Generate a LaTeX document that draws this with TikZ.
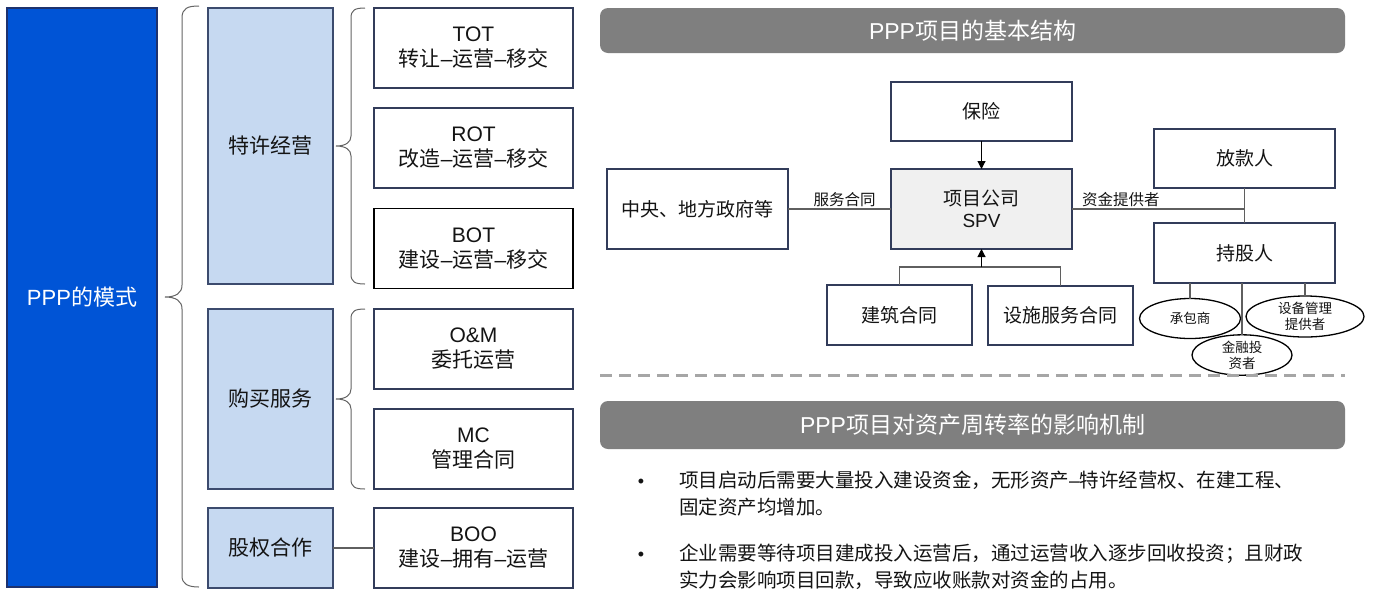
\documentclass[tikz,border=0pt]{standalone}
\usepackage{fontspec}
\setmainfont{Noto Sans CJK SC}
\newfontfamily\lat{Liberation Sans}
\usetikzlibrary{shapes.geometric,arrows.meta}
\definecolor{pppblue}{RGB}{0,84,214}
\definecolor{pppedge}{RGB}{30,50,110}
\definecolor{catfill}{RGB}{198,217,241}
\definecolor{catedge}{RGB}{60,75,110}
\definecolor{boxedge}{RGB}{50,60,90}
\definecolor{hdr}{RGB}{127,127,127}
\definecolor{spvfill}{RGB}{240,240,240}
\definecolor{conn}{RGB}{95,95,95}
\definecolor{bracec}{RGB}{100,100,100}
\definecolor{dashc}{RGB}{166,166,166}
\definecolor{txt}{RGB}{20,20,20}
\begin{document}
\begin{tikzpicture}[x=1pt,y=-1pt,
  every node/.style={inner sep=0pt, outer sep=0pt, text=txt},
  pppbox/.style={draw=pppedge, fill=pppblue, line width=1.5pt, minimum width=150pt, minimum height=579pt, text=white, font=\fontsize{22}{26}\selectfont},
  catbox/.style={draw=catedge, fill=catfill, line width=1.5pt, minimum width=125pt, font=\fontsize{21}{25}\selectfont},
  modebox/.style={draw=boxedge, fill=white, line width=1.5pt, minimum width=199pt, minimum height=80pt, align=center, font=\fontsize{21}{25}\selectfont},
  header/.style={fill=hdr, rounded corners=8pt, minimum width=745pt, text=white, font=\fontsize{23}{27}\selectfont},
  sbox/.style={draw=boxedge, fill=white, line width=1.5pt, minimum width=181pt, align=center, font=\fontsize{19}{22}\selectfont},
  ebox/.style={draw=black, fill=white, ellipse, line width=1.3pt, align=center, font=\fontsize{13.5}{16}\selectfont},
  conn/.style={draw=conn, line width=1.1pt},
  arr/.style={-{Triangle[length=8pt,width=8pt]}, draw=black},
  brace/.style={draw=bracec, line width=1pt},
  lbl/.style={font=\fontsize{15.5}{18}\selectfont},
  btxt/.style={anchor=base west, font=\fontsize{19.5}{23}\selectfont},
  bdot/.style={anchor=base, font=\fontsize{18}{20}\selectfont\lat}
]
\useasboundingbox (0,0) rectangle (1375,590);
\fill[white] (0,0) rectangle (1375,590);

% ---------------- left part ----------------
\node[pppbox] (ppp) at (82,297.5) {{\lat PPP}的模式};
\node[catbox, minimum height=276pt] (c1) at (270.5,146) {特许经营};
\node[catbox, minimum height=180pt] (c2) at (270.5,399) {购买服务};
\node[catbox, minimum height=80pt] (c3) at (270.5,548) {股权合作};

\node[modebox] (tot) at (473.5,48) {{\lat TOT}\\转让{\lat –}运营{\lat –}移交};
\node[modebox] (rot) at (473.5,148) {{\lat ROT}\\改造{\lat –}运营{\lat –}移交};
\node[modebox, draw=black] (bot) at (473.5,248.5) {{\lat BOT}\\建设{\lat –}运营{\lat –}移交};
\node[modebox] (om) at (473.5,349) {{\lat O\&M}\\委托运营};
\node[modebox] (mc) at (473.5,449) {{\lat MC}\\管理合同};
\node[modebox] (boo) at (473.5,548) {{\lat BOO}\\建设{\lat –}拥有{\lat –}运营};

% braces
\draw[brace] (199,6) .. controls (188,6) and (182,8) .. (182,18) -- (182,285)
  .. controls (182,293) and (176,297) .. (165,297)
  .. controls (176,297) and (182,301) .. (182,309) -- (182,576)
  .. controls (182,584) and (188,587) .. (199,587);
\draw[brace] (365,8) .. controls (355,8) and (351,10) .. (351,18) -- (351,136)
  .. controls (351,142) and (346,146) .. (336,146)
  .. controls (346,146) and (351,150) .. (351,156) -- (351,274)
  .. controls (351,282) and (355,284) .. (365,284);
\draw[brace] (365,309) .. controls (355,309) and (351,311) .. (351,319) -- (351,389)
  .. controls (351,395) and (346,399) .. (336,399)
  .. controls (346,399) and (351,403) .. (351,409) -- (351,479)
  .. controls (351,487) and (355,489) .. (365,489);
\draw[conn] (c3.east) -- (boo.west);

% ---------------- right top ----------------
\node[header, minimum height=45pt] (h1) at (972.5,30.5) {{\lat PPP}项目的基本结构};

\node[sbox, minimum height=59pt] (ins) at (981.5,111.5) {保险};
\node[sbox, minimum height=80pt, fill=spvfill] (spv) at (981.5,209) {项目公司\\{\lat SPV}};
\node[sbox, minimum height=80pt] (gov) at (697.5,209) {中央、地方政府等};
\node[sbox, minimum width=145pt, minimum height=60pt] (bld) at (899.5,315) {建筑合同};
\node[sbox, minimum width=145pt, minimum height=59pt] (fac) at (1060.5,315.5) {设施服务合同};
\node[sbox, minimum height=59pt] (lend) at (1244.5,158.5) {放款人};
\node[sbox, minimum height=60pt] (hold) at (1244.5,253) {持股人};

\node[ebox, minimum width=101pt, minimum height=40pt] (ctr) at (1190,318.5) {承包商};
\node[ebox, minimum width=100pt, minimum height=39pt] (fin) at (1242,355) {金融投\\资者};
\node[ebox, minimum width=118pt, minimum height=41pt] (eqp) at (1305,316.5) {设备管理\\提供者};

\draw[conn, arr] (ins.south) -- (spv.north);
\draw[conn] (gov.east) -- node[pos=0.55, above=2pt, lbl] {服务合同} (spv.west);
\draw[conn] (spv.east) -- node[pos=0, anchor=south west, xshift=10pt, yshift=2pt, lbl] {资金提供者} (spv.east -| lend.south);
\draw[conn] (lend.south) -- (hold.north);

\coordinate (jn) at (981.5,267);
\draw[conn] (bld.north) -- (bld.north |- jn) -- (fac.north |- jn) -- (fac.north);
\draw[conn, arr] (jn) -- (spv.south);

\draw[conn] (hold.south -| ctr.north) -- (ctr.north);
\draw[conn] (hold.south -| fin.north) -- (fin.north);
\draw[conn] (hold.south -| eqp.north) -- (eqp.north);

% dashed separator
\coordinate (dl) at (600,375);
\coordinate (dr) at (1345,375);
\draw[draw=dashc, line width=3pt, dash pattern=on 12pt off 7pt] (dl) -- (dr);

% ---------------- right bottom ----------------
\node[header, minimum height=48pt] (h2) at (972.5,425) {{\lat PPP}项目对资产周转率的影响机制};

\node[bdot] (d1) at (641,487) {•};
\node[btxt] (t1a) at (679,487) {项目启动后需要大量投入建设资金，无形资产{\lat –}特许经营权、在建工程、};
\node[btxt] (t1b) at (679,514) {固定资产均增加。};
\node[bdot] (d2) at (641,560) {•};
\node[btxt] (t2a) at (679,560) {企业需要等待项目建成投入运营后，通过运营收入逐步回收投资；且财政};
\node[btxt] (t2b) at (679,587) {实力会影响项目回款，导致应收账款对资金的占用。};
\end{tikzpicture}
\end{document}
